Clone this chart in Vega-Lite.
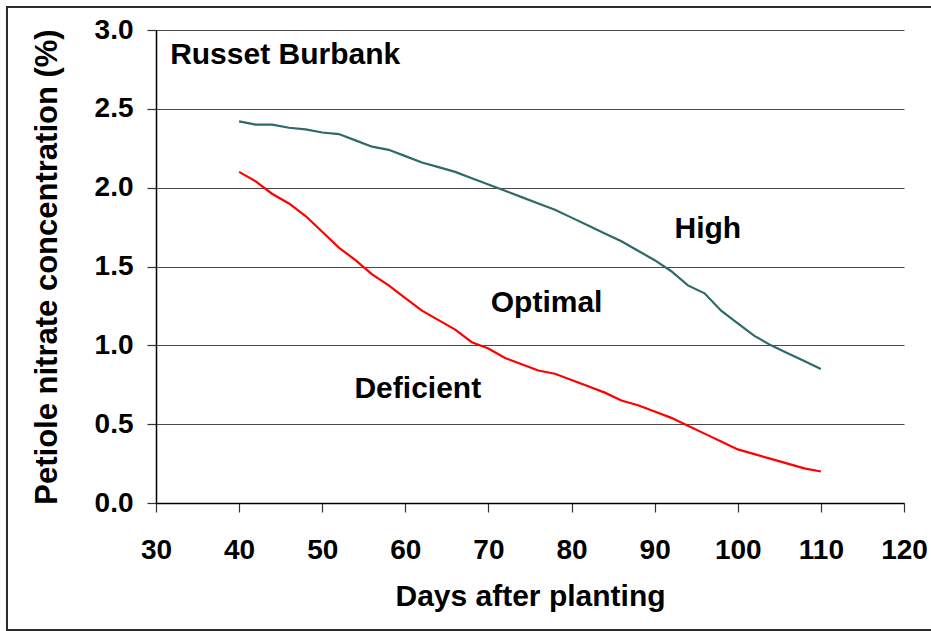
{
  "$schema": "https://vega.github.io/schema/vega-lite/v6.json",
  "width": 748,
  "height": 473,
  "autosize": {"type": "none"},
  "padding": {"left": 156, "top": 30, "right": 27, "bottom": 128},
  "background": "white",
  "config": {"view": {"stroke": null}, "font": "Liberation Sans"},
  "datasets": {
    "series": [
      {"day": 40, "value": 2.42, "series": "High"},
      {"day": 42, "value": 2.40, "series": "High"},
      {"day": 44, "value": 2.40, "series": "High"},
      {"day": 46, "value": 2.38, "series": "High"},
      {"day": 48, "value": 2.37, "series": "High"},
      {"day": 50, "value": 2.35, "series": "High"},
      {"day": 52, "value": 2.34, "series": "High"},
      {"day": 54, "value": 2.30, "series": "High"},
      {"day": 56, "value": 2.26, "series": "High"},
      {"day": 58, "value": 2.24, "series": "High"},
      {"day": 60, "value": 2.20, "series": "High"},
      {"day": 62, "value": 2.16, "series": "High"},
      {"day": 64, "value": 2.13, "series": "High"},
      {"day": 66, "value": 2.10, "series": "High"},
      {"day": 68, "value": 2.06, "series": "High"},
      {"day": 70, "value": 2.02, "series": "High"},
      {"day": 72, "value": 1.98, "series": "High"},
      {"day": 74, "value": 1.94, "series": "High"},
      {"day": 76, "value": 1.90, "series": "High"},
      {"day": 78, "value": 1.86, "series": "High"},
      {"day": 80, "value": 1.81, "series": "High"},
      {"day": 82, "value": 1.76, "series": "High"},
      {"day": 84, "value": 1.71, "series": "High"},
      {"day": 86, "value": 1.66, "series": "High"},
      {"day": 88, "value": 1.60, "series": "High"},
      {"day": 90, "value": 1.54, "series": "High"},
      {"day": 92, "value": 1.47, "series": "High"},
      {"day": 94, "value": 1.38, "series": "High"},
      {"day": 96, "value": 1.33, "series": "High"},
      {"day": 98, "value": 1.22, "series": "High"},
      {"day": 100, "value": 1.14, "series": "High"},
      {"day": 102, "value": 1.06, "series": "High"},
      {"day": 104, "value": 1.00, "series": "High"},
      {"day": 106, "value": 0.95, "series": "High"},
      {"day": 108, "value": 0.90, "series": "High"},
      {"day": 110, "value": 0.85, "series": "High"},
      {"day": 40, "value": 2.10, "series": "Deficient"},
      {"day": 42, "value": 2.04, "series": "Deficient"},
      {"day": 44, "value": 1.96, "series": "Deficient"},
      {"day": 46, "value": 1.90, "series": "Deficient"},
      {"day": 48, "value": 1.82, "series": "Deficient"},
      {"day": 50, "value": 1.72, "series": "Deficient"},
      {"day": 52, "value": 1.62, "series": "Deficient"},
      {"day": 54, "value": 1.54, "series": "Deficient"},
      {"day": 56, "value": 1.45, "series": "Deficient"},
      {"day": 58, "value": 1.38, "series": "Deficient"},
      {"day": 60, "value": 1.30, "series": "Deficient"},
      {"day": 62, "value": 1.22, "series": "Deficient"},
      {"day": 64, "value": 1.16, "series": "Deficient"},
      {"day": 66, "value": 1.10, "series": "Deficient"},
      {"day": 68, "value": 1.02, "series": "Deficient"},
      {"day": 70, "value": 0.98, "series": "Deficient"},
      {"day": 72, "value": 0.92, "series": "Deficient"},
      {"day": 74, "value": 0.88, "series": "Deficient"},
      {"day": 76, "value": 0.84, "series": "Deficient"},
      {"day": 78, "value": 0.82, "series": "Deficient"},
      {"day": 80, "value": 0.78, "series": "Deficient"},
      {"day": 82, "value": 0.74, "series": "Deficient"},
      {"day": 84, "value": 0.70, "series": "Deficient"},
      {"day": 86, "value": 0.65, "series": "Deficient"},
      {"day": 88, "value": 0.62, "series": "Deficient"},
      {"day": 90, "value": 0.58, "series": "Deficient"},
      {"day": 92, "value": 0.54, "series": "Deficient"},
      {"day": 94, "value": 0.49, "series": "Deficient"},
      {"day": 96, "value": 0.44, "series": "Deficient"},
      {"day": 98, "value": 0.39, "series": "Deficient"},
      {"day": 100, "value": 0.34, "series": "Deficient"},
      {"day": 102, "value": 0.31, "series": "Deficient"},
      {"day": 104, "value": 0.28, "series": "Deficient"},
      {"day": 106, "value": 0.25, "series": "Deficient"},
      {"day": 108, "value": 0.22, "series": "Deficient"},
      {"day": 110, "value": 0.20, "series": "Deficient"}
    ],
    "labels": [
      {"label": "Russet Burbank", "day": 31.7, "value": 2.84, "kind": "title"},
      {"label": "High", "day": 96.4, "value": 1.74, "kind": "zone"},
      {"label": "Optimal", "day": 77.0, "value": 1.27, "kind": "zone"},
      {"label": "Deficient", "day": 61.5, "value": 0.72, "kind": "zone"}
    ]
  },
  "layer": [
    {
      "data": {"values": [{}]},
      "mark": {"type": "rect", "fill": null, "fillOpacity": 0, "stroke": "#2a2a2a", "strokeWidth": 2, "clip": false},
      "encoding": {
        "x": {"datum": 12.07, "type": "quantitative", "scale": {"domain": [30, 120]}},
        "x2": {"datum": 124.5},
        "y": {"datum": 3.146, "type": "quantitative", "scale": {"domain": [0, 3]}},
        "y2": {"datum": -0.805}
      }
    },
    {
      "data": {"name": "series"},
      "mark": {"type": "line", "strokeWidth": 2.2},
      "encoding": {
        "x": {
          "field": "day", "type": "quantitative",
          "scale": {"domain": [30, 120], "nice": false, "zero": false},
          "axis": {
            "title": "Days after planting",
            "values": [30, 40, 50, 60, 70, 80, 90, 100, 110, 120],
            "grid": false,
            "labelFlush": false, "labelOverlap": false,
            "domainColor": "#000000", "domainWidth": 1.5,
            "tickColor": "#333333", "tickSize": 9, "tickWidth": 1.2,
            "labelFont": "Liberation Sans", "labelFontWeight": "bold", "labelFontSize": 28, "labelColor": "#000000",
            "labelPadding": 24,
            "titleFont": "Liberation Sans", "titleFontWeight": "bold", "titleFontSize": 30, "titleColor": "#000000",
            "titlePadding": 17
          }
        },
        "y": {
          "field": "value", "type": "quantitative",
          "scale": {"domain": [0, 3], "nice": false},
          "axis": {
            "title": "Petiole nitrate concentration (%)",
            "values": [0, 0.5, 1, 1.5, 2, 2.5, 3],
            "format": ".1f",
            "labelFlush": false, "labelOverlap": false,
            "grid": true, "gridColor": "#4a4a4a", "gridWidth": 1.2,
            "domainColor": "#000000", "domainWidth": 1.5,
            "tickColor": "#333333", "tickSize": 9, "tickWidth": 1.2,
            "labelFont": "Liberation Sans", "labelFontWeight": "bold", "labelFontSize": 28, "labelColor": "#000000",
            "labelPadding": 14,
            "titleFont": "Liberation Sans", "titleFontWeight": "bold", "titleFontSize": 31, "titleColor": "#000000",
            "titlePadding": 31
          }
        },
        "color": {
          "field": "series", "type": "nominal",
          "scale": {"domain": ["High", "Deficient"], "range": ["#2f6a68", "#ff0000"]},
          "legend": null
        },
        "detail": {"field": "series"}
      }
    },
    {
      "data": {"name": "labels"},
      "transform": [{"filter": "datum.kind === 'zone'"}],
      "mark": {"type": "text", "font": "Liberation Sans", "fontWeight": "bold", "fontSize": 30, "align": "center", "baseline": "middle", "color": "#000000"},
      "encoding": {
        "x": {"field": "day", "type": "quantitative"},
        "y": {"field": "value", "type": "quantitative"},
        "text": {"field": "label"}
      }
    },
    {
      "data": {"name": "labels"},
      "transform": [{"filter": "datum.kind === 'title'"}],
      "mark": {"type": "text", "font": "Liberation Sans", "fontWeight": "bold", "fontSize": 30, "align": "left", "baseline": "middle", "color": "#000000"},
      "encoding": {
        "x": {"field": "day", "type": "quantitative"},
        "y": {"field": "value", "type": "quantitative"},
        "text": {"field": "label"}
      }
    }
  ]
}
